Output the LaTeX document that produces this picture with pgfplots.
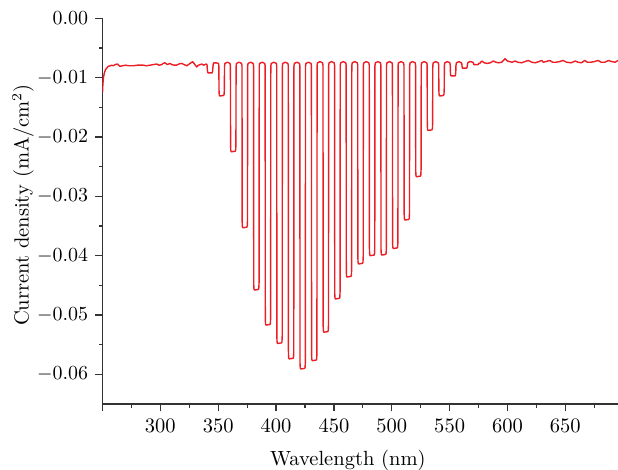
\documentclass[border=0pt]{standalone}
\usepackage{pgfplots}
\pgfplotsset{compat=1.18}
\usetikzlibrary{calc}
\definecolor{rojo}{RGB}{235,30,36}
\begin{document}
\begin{tikzpicture}
\begin{axis}[
  scale only axis, width=257.75bp, height=192.85bp,
  xmin=250, xmax=695.5, ymin=-0.065, ymax=0,
  axis x line*=bottom, axis y line*=left,
  axis line style={line width=0.6bp, black!80},
  xtick={250,300,...,650}, xticklabels={,300,350,400,450,500,550,600,650},
  minor xtick={275,325,...,675},
  ytick={-0.06,-0.05,-0.04,-0.03,-0.02,-0.01,0},
  minor ytick={-0.055,-0.045,-0.035,-0.025,-0.015,-0.005},
  tick align=outside,
  major tick length=3.65bp, minor tick length=1.75bp,
  every tick/.style={black!80, line width=0.6bp},
  scaled y ticks=false,
  yticklabel style={/pgf/number format/.cd, fixed, fixed zerofill, precision=2},
  tick label style={font=\fontsize{10.3}{12}\selectfont},
  label style={font=\fontsize{10.3}{12}\selectfont},
  xlabel={Wavelength (nm)},
  ylabel={Current density (mA/cm$^2$)},
  xlabel style={at={(axis description cs:0.476,-0.145)}, anchor=center},
  ylabel style={at={(axis description cs:-0.154,0.516)}, anchor=center},
]
\addplot[rojo, line width=0.7bp, mark=none, line join=round] coordinates {
(250.0,-0.0125) (250.3,-0.0112) (250.8,-0.0100) (251.5,-0.0093) (252.5,-0.0087)
(253.6,-0.0084) (255,-0.0081) (256.5,-0.0080) (258,-0.0079) (259.4,-0.0080)
(261,-0.0078) (262.8,-0.0077) (264,-0.0079) (265.1,-0.0081) (267,-0.0080)
(270,-0.0079) (273,-0.0080) (276.6,-0.0080) (280,-0.0079) (283,-0.0079)
(285.3,-0.0079) (288,-0.0080) (291,-0.0079) (294,-0.0078) (296.8,-0.0077)
(299,-0.0079) (301.2,-0.0078) (302.5,-0.0076) (304,-0.0075) (306,-0.0078)
(308.3,-0.0076) (310,-0.0078) (312,-0.0079) (314,-0.0079) (316,-0.0077)
(318.4,-0.0076) (320.5,-0.0078) (322.8,-0.0080) (325,-0.0077) (327.9,-0.0073)
(329.5,-0.0077) (331.4,-0.0082) (333,-0.0079) (335.7,-0.0077) (337.5,-0.0079)
(339.5,-0.0077)
(340.3,-0.0078) (340.6,-0.0086) (340.9,-0.0091) (341.3,-0.0092) (344.7,-0.0092) (345.1,-0.0090) (345.4,-0.0083) (345.7,-0.0077) (346.2,-0.0075) (348,-0.0075) (350.2,-0.0076)
(350.55,-0.0080) (350.7,-0.0121) (350.9,-0.0129) (351.3,-0.0131) (354.7,-0.0130) (355.1,-0.0128) (355.3,-0.0119) (355.45,-0.0081) (355.8,-0.0076) (358,-0.0074) (360.2,-0.0076)
(360.55,-0.0080) (360.7,-0.0215) (360.9,-0.0223) (361.3,-0.0225) (364.7,-0.0224) (365.1,-0.0222) (365.3,-0.0213) (365.45,-0.0081) (365.8,-0.0076) (368,-0.0074) (370.2,-0.0076)
(370.55,-0.0080) (370.7,-0.0343) (370.9,-0.0351) (371.3,-0.0353) (374.7,-0.0352) (375.1,-0.0350) (375.3,-0.0341) (375.45,-0.0081) (375.8,-0.0076) (378,-0.0074) (380.2,-0.0076)
(380.55,-0.0080) (380.7,-0.0448) (380.9,-0.0456) (381.3,-0.0458) (384.7,-0.0457) (385.1,-0.0455) (385.3,-0.0446) (385.45,-0.0081) (385.8,-0.0076) (388,-0.0074) (390.2,-0.0076)
(390.55,-0.0080) (390.7,-0.0507) (390.9,-0.0515) (391.3,-0.0517) (394.7,-0.0516) (395.1,-0.0514) (395.3,-0.0505) (395.45,-0.0081) (395.8,-0.0076) (398,-0.0074) (400.2,-0.0076)
(400.55,-0.0080) (400.7,-0.0538) (400.9,-0.0546) (401.3,-0.0548) (404.7,-0.0547) (405.1,-0.0545) (405.3,-0.0536) (405.45,-0.0081) (405.8,-0.0076) (408,-0.0074) (410.2,-0.0076)
(410.55,-0.0080) (410.7,-0.0564) (410.9,-0.0572) (411.3,-0.0574) (414.7,-0.0573) (415.1,-0.0571) (415.3,-0.0562) (415.45,-0.0081) (415.8,-0.0076) (418,-0.0074) (420.2,-0.0076)
(420.55,-0.0080) (420.7,-0.0581) (420.9,-0.0589) (421.3,-0.0591) (424.7,-0.0590) (425.1,-0.0588) (425.3,-0.0579) (425.45,-0.0081) (425.8,-0.0076) (428,-0.0074) (430.2,-0.0076)
(430.55,-0.0080) (430.7,-0.0567) (430.9,-0.0575) (431.3,-0.0577) (434.7,-0.0576) (435.1,-0.0574) (435.3,-0.0565) (435.45,-0.0080) (435.8,-0.0075) (438,-0.0073) (440.2,-0.0075)
(440.55,-0.0079) (440.7,-0.0519) (440.9,-0.0527) (441.3,-0.0529) (444.7,-0.0528) (445.1,-0.0526) (445.3,-0.0517) (445.45,-0.0080) (445.8,-0.0075) (448,-0.0073) (450.2,-0.0075)
(450.55,-0.0079) (450.7,-0.0463) (450.9,-0.0471) (451.3,-0.0473) (454.7,-0.0472) (455.1,-0.0470) (455.3,-0.0461) (455.45,-0.0080) (455.8,-0.0075) (458,-0.0073) (460.2,-0.0075)
(460.55,-0.0079) (460.7,-0.0426) (460.9,-0.0434) (461.3,-0.0436) (464.7,-0.0435) (465.1,-0.0433) (465.3,-0.0424) (465.45,-0.0080) (465.8,-0.0075) (468,-0.0073) (470.2,-0.0075)
(470.55,-0.0079) (470.7,-0.0404) (470.9,-0.0412) (471.3,-0.0414) (474.7,-0.0413) (475.1,-0.0411) (475.3,-0.0402) (475.45,-0.0080) (475.8,-0.0075) (478,-0.0073) (480.2,-0.0075)
(480.55,-0.0079) (480.7,-0.0390) (480.9,-0.0398) (481.3,-0.0400) (484.7,-0.0399) (485.1,-0.0397) (485.3,-0.0388) (485.45,-0.0080) (485.8,-0.0075) (488,-0.0073) (490.2,-0.0075)
(490.55,-0.0079) (490.7,-0.0389) (490.9,-0.0397) (491.3,-0.0399) (494.7,-0.0398) (495.1,-0.0396) (495.3,-0.0387) (495.45,-0.0080) (495.8,-0.0075) (498,-0.0073) (500.2,-0.0075)
(500.55,-0.0079) (500.7,-0.0378) (500.9,-0.0386) (501.3,-0.0388) (504.7,-0.0387) (505.1,-0.0385) (505.3,-0.0376) (505.45,-0.0080) (505.8,-0.0075) (508,-0.0073) (510.2,-0.0075)
(510.55,-0.0079) (510.7,-0.0330) (510.9,-0.0338) (511.3,-0.0340) (514.7,-0.0339) (515.1,-0.0337) (515.3,-0.0328) (515.45,-0.0080) (515.8,-0.0075) (518,-0.0073) (520.2,-0.0075)
(520.55,-0.0079) (520.7,-0.0257) (520.9,-0.0265) (521.3,-0.0267) (524.7,-0.0266) (525.1,-0.0264) (525.3,-0.0255) (525.45,-0.0080) (525.8,-0.0075) (528,-0.0073) (530.2,-0.0075)
(530.55,-0.0079) (530.7,-0.0179) (530.9,-0.0187) (531.3,-0.0189) (534.7,-0.0188) (535.1,-0.0186) (535.3,-0.0177) (535.45,-0.0080) (535.8,-0.0075) (538,-0.0073) (540.2,-0.0075)
(540.55,-0.0079) (540.7,-0.0121) (540.9,-0.0129) (541.3,-0.0131) (544.7,-0.0130) (545.1,-0.0128) (545.3,-0.0119) (545.45,-0.0080) (545.8,-0.0075) (548,-0.0073) (550.2,-0.0075)
(550.55,-0.0079) (550.7,-0.0091) (550.9,-0.0096) (551.3,-0.0097) (554.7,-0.0097) (555.1,-0.0095) (555.3,-0.0090) (555.45,-0.0080) (555.8,-0.0075) (558,-0.0073) (560.2,-0.0075)
(560.55,-0.0077) (560.8,-0.0082) (561.1,-0.0084) (561.4,-0.0084) (564.7,-0.0084) (565.1,-0.0082) (565.4,-0.0078) (565.7,-0.0075) (566.2,-0.0074) (568,-0.0073) (570.2,-0.0074)
(570.6,-0.0076) (571,-0.0078) (574.6,-0.0078) (575.2,-0.0076)
(576,-0.0076) (577.7,-0.0072) (580,-0.0075) (582.5,-0.0076) (585,-0.0075)
(587.8,-0.0072) (590,-0.0074) (592.5,-0.0075) (595,-0.0074) (597.9,-0.0068)
(600,-0.0072) (602,-0.0073) (604,-0.0074) (606.5,-0.0072) (609,-0.0074)
(612,-0.0075) (615,-0.0073) (618,-0.0071) (621,-0.0074) (624,-0.0075)
(627,-0.0073) (629.6,-0.0071) (631,-0.0074) (633,-0.0073) (636.5,-0.0071)
(639,-0.0074) (642,-0.0074) (645,-0.0073) (648,-0.0071) (651,-0.0074)
(655,-0.0075) (658.4,-0.0072) (661,-0.0074) (664,-0.0075) (666.7,-0.0071)
(669,-0.0074) (672,-0.0074) (675,-0.0073) (678.2,-0.0071) (681,-0.0074)
(684,-0.0074) (687.5,-0.0071) (690,-0.0073) (693,-0.0074) (695.5,-0.0071)
};
\coordinate (o) at (rel axis cs:0,0);
\end{axis}
\pgfresetboundingbox
\path[use as bounding box] ($(o)+(-51.25bp,-33bp)$) rectangle ($(o)+(257.75bp,202bp)$);
\end{tikzpicture}
\end{document}
